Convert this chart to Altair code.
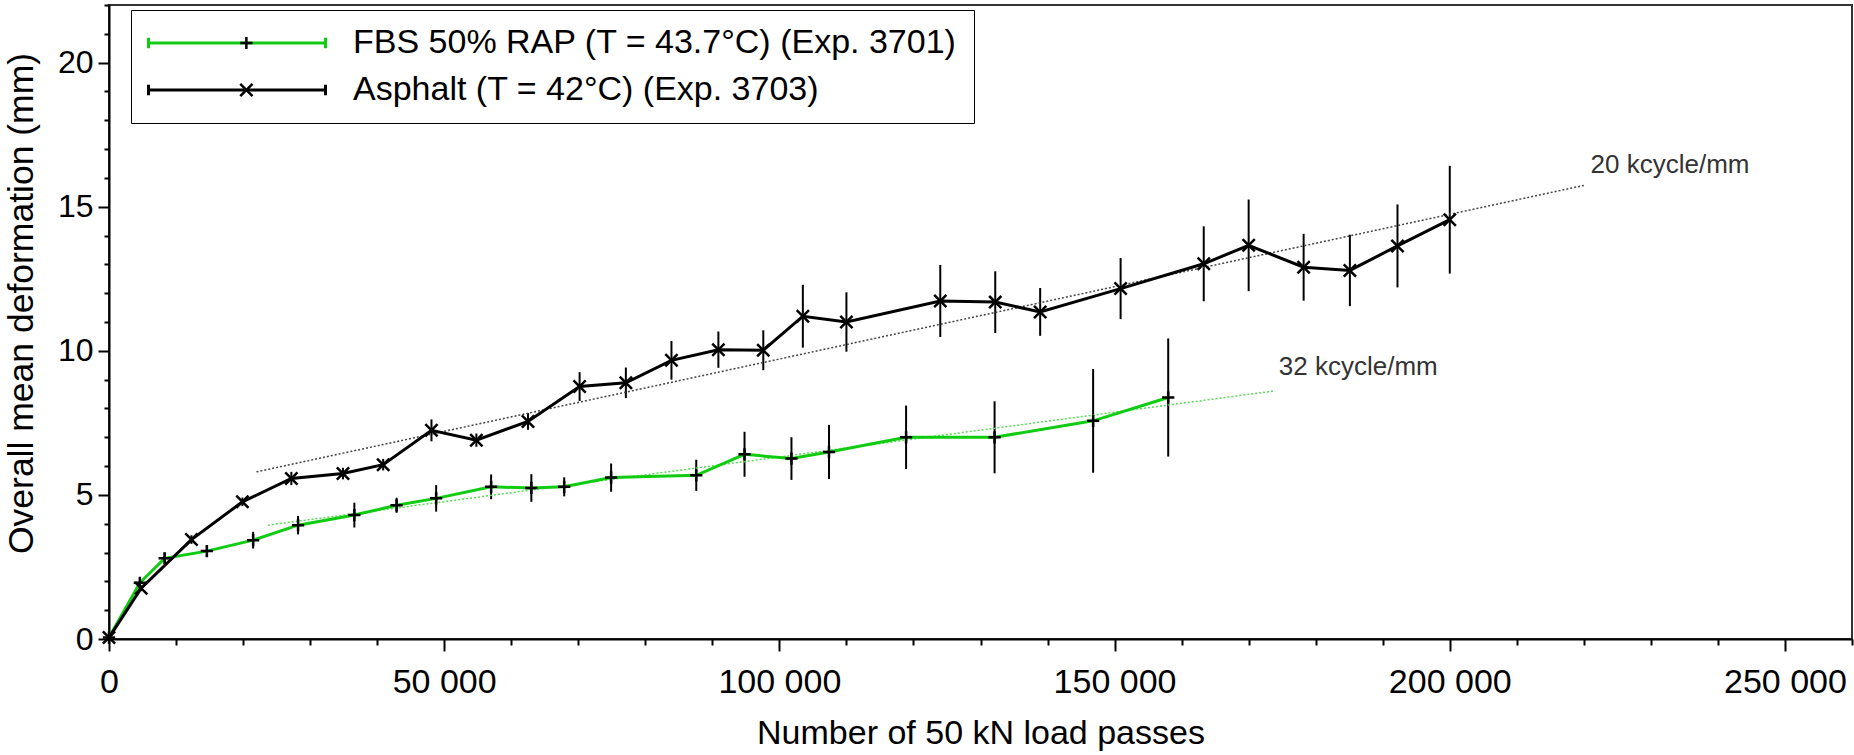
import altair as alt
import pandas as pd

# ---------------- data ----------------
series_labels = ["FBS 50% RAP (T = 43.7°C) (Exp. 3701)", "Asphalt (T = 42°C) (Exp. 3703)"]

fbs_x = [0, 4600, 8300, 14600, 21500, 28200, 36600, 42900, 48800, 57000, 63000,
         67900, 74900, 87600, 94800, 101800, 107400, 118900, 132100, 146800, 158000]
fbs_y = [0.05, 1.95, 2.80, 3.05, 3.43, 3.95, 4.30, 4.64, 4.88, 5.28, 5.24,
         5.28, 5.60, 5.68, 6.41, 6.26, 6.49, 7.00, 7.00, 7.57, 8.38]
fbs_err = [0, 0.10, 0.20, 0.20, 0.29, 0.32, 0.43, 0.26, 0.46, 0.43, 0.48,
           0.33, 0.49, 0.54, 0.78, 0.74, 0.94, 1.10, 1.25, 1.80, 2.05]

asp_x = [0, 4800, 12300, 19900, 27200, 34900, 40900, 48100, 54800, 62500, 70200,
         77100, 83900, 90900, 97600, 103500, 110000, 124000, 132200, 138900,
         150900, 163300, 170000, 178200, 185100, 192200, 200000]
asp_y = [0.05, 1.76, 3.45, 4.76, 5.57, 5.74, 6.05, 7.24, 6.90, 7.55, 8.76,
         8.89, 9.67, 10.04, 10.02, 11.20, 11.00, 11.73, 11.69, 11.35,
         12.16, 13.02, 13.66, 12.90, 12.79, 13.64, 14.55]
asp_err = [0, 0.10, 0.15, 0.15, 0.23, 0.20, 0.20, 0.38, 0.23, 0.29, 0.50,
           0.53, 0.67, 0.63, 0.69, 1.09, 1.03, 1.25, 1.07, 0.83,
           1.06, 1.30, 1.59, 1.16, 1.24, 1.44, 1.87]

# fitted trend lines (end points)
trend_asp_x = [22000, 220000]
trend_asp_y = [5.80, 15.74]
trend_fbs_x = [23700, 173900]
trend_fbs_y = [3.95, 8.61]

annot_text = ["20 kcycle/mm", "32 kcycle/mm"]
annot_x = [221000, 174500]
annot_y = [16.45, 9.43]

x_ticks = list(range(0, 260001, 10000))
y_ticks = list(range(0, 23, 1))

# ---------------- tables ----------------
rows = []
for xs, ys, es, lab in [(fbs_x, fbs_y, fbs_err, series_labels[0]),
                        (asp_x, asp_y, asp_err, series_labels[1])]:
    for xv, yv, ev in zip(xs, ys, es):
        rows.append({"x": xv, "y": yv, "lo": yv - ev, "hi": yv + ev,
                     "series": lab, "sym": lab})
df = pd.DataFrame(rows)

trend_asp = pd.DataFrame({"x": trend_asp_x, "y": trend_asp_y})
trend_fbs = pd.DataFrame({"x": trend_fbs_x, "y": trend_fbs_y})
annot = pd.DataFrame({"x": annot_x, "y": annot_y, "t": annot_text})

GREEN = "#10cc10"
FONT = "Liberation Sans"

xscale = alt.Scale(domain=[0, 260000], nice=False, zero=True)
yscale = alt.Scale(domain=[0, 22], nice=False, zero=True)

x_axis = alt.Axis(
    values=x_ticks,
    labelExpr="datum.value % 50000 == 0 ? (datum.value == 0 ? '0' : format(datum.value/1000, 'd') + ' 000') : ''",
    tickSize={"condition": {"test": "datum.value % 50000 == 0", "value": 12}, "value": 6},
    title="Number of 50 kN load passes",
    labelFlush=False, labelOverlap="greedy", labelSeparation=0, grid=False,
    labelPadding=14, titleY=94, titleBaseline="middle",
    labelFontSize=34, titleFontSize=34,
)
y_axis = alt.Axis(
    values=y_ticks,
    labelExpr="datum.value % 5 == 0 ? format(datum.value, 'd') : ''",
    tickSize={"condition": {"test": "datum.value % 5 == 0", "value": 11}, "value": 5},
    title="Overall mean deformation (mm)",
    labelFlush=False, labelOverlap="greedy", labelSeparation=0, grid=False,
    labelPadding=5, titleX=-88, titleY=298, titleBaseline="middle", titleAngle=270,
    labelFontSize=32, titleFontSize=35.5,
)

X = lambda: alt.X("x:Q", scale=xscale, axis=x_axis)
Y = lambda: alt.Y("y:Q", scale=yscale, axis=y_axis)

plus_path = "M-1,0L1,0M0,-1L0,1"
x_path = "M-1,-1L1,1M-1,1L1,-1"
legend_line = "M-1,0L1,0M-1,-0.06L-1,0.06M1,-0.06L1,0.06"

LEG_X = 22
LEG_Y = 5
SYM_W = 177
PAD = 16
CLIP = 34
ROWPAD = 13
LFS = 34

base_axes = alt.Chart(df).mark_rule(color="black", strokeWidth=2).encode(
    x=X(),
    y=alt.Y("lo:Q", scale=yscale, axis=y_axis),
    y2="hi:Q",
)

t1 = alt.Chart(trend_asp).mark_line(color="#444444", strokeWidth=1.5, strokeDash=[2, 2]).encode(
    x=X(), y=Y())
t2 = alt.Chart(trend_fbs).mark_line(color="#55dd55", strokeWidth=1.5, strokeDash=[2, 2]).encode(
    x=X(), y=Y())

lines = alt.Chart(df).mark_line(strokeWidth=3).encode(
    x=X(), y=Y(),
    stroke=alt.Stroke("series:N", sort=series_labels,
                      scale=alt.Scale(range=[GREEN, "black"]),
                      legend=alt.Legend(title=None, orient="none", legendX=LEG_X, legendY=LEG_Y,
                                        symbolType=legend_line, symbolSize=SYM_W * SYM_W,
                                        symbolStrokeWidth=3, labelFontSize=LFS, labelFont=FONT,
                                        labelColor="black", labelOffset=26, padding=PAD,
                                        strokeColor="black", rowPadding=ROWPAD, clipHeight=CLIP,
                                        labelLimit=0)),
)

points = alt.Chart(df).mark_point(filled=False, color="black", strokeWidth=2.5, size=150, opacity=1).encode(
    x=X(), y=Y(),
    shape=alt.Shape("sym:N", sort=series_labels,
                    scale=alt.Scale(range=[plus_path, x_path]),
                    legend=alt.Legend(title=None, orient="none",
                                      legendX=LEG_X + SYM_W / 2 - (150 ** 0.5) / 2, legendY=LEG_Y,
                                      symbolSize=150, symbolStrokeWidth=2.5,
                                      symbolStrokeColor="black", labelExpr="''",
                                      labelFontSize=LFS, labelFont=FONT, padding=PAD,
                                      rowPadding=ROWPAD, clipHeight=CLIP, labelLimit=0)),
)

texts = alt.Chart(annot).mark_text(align="left", baseline="middle", fontSize=26, font=FONT,
                                   color="#333333").encode(x=X(), y=Y(), text="t:N")

chart = alt.layer(base_axes, t1, t2, lines, points, texts).resolve_legend(
    stroke="independent", shape="independent"
).properties(
    width=1743, height=634,
    autosize=alt.AutoSizeParams(type="none"),
    padding={"left": 109, "top": 5, "right": 2, "bottom": 116},
    background="white",
).configure_view(
    stroke="#333333", strokeWidth=2
).configure_axis(
    domainColor="black", domainWidth=2, tickColor="black", tickWidth=2,
    labelFont=FONT, labelColor="black", labelFlush=False,
    titleFont=FONT, titleFontWeight="normal", titleColor="black",
)

chart.save("out.html", embed_options={"renderer": "svg", "actions": False})
